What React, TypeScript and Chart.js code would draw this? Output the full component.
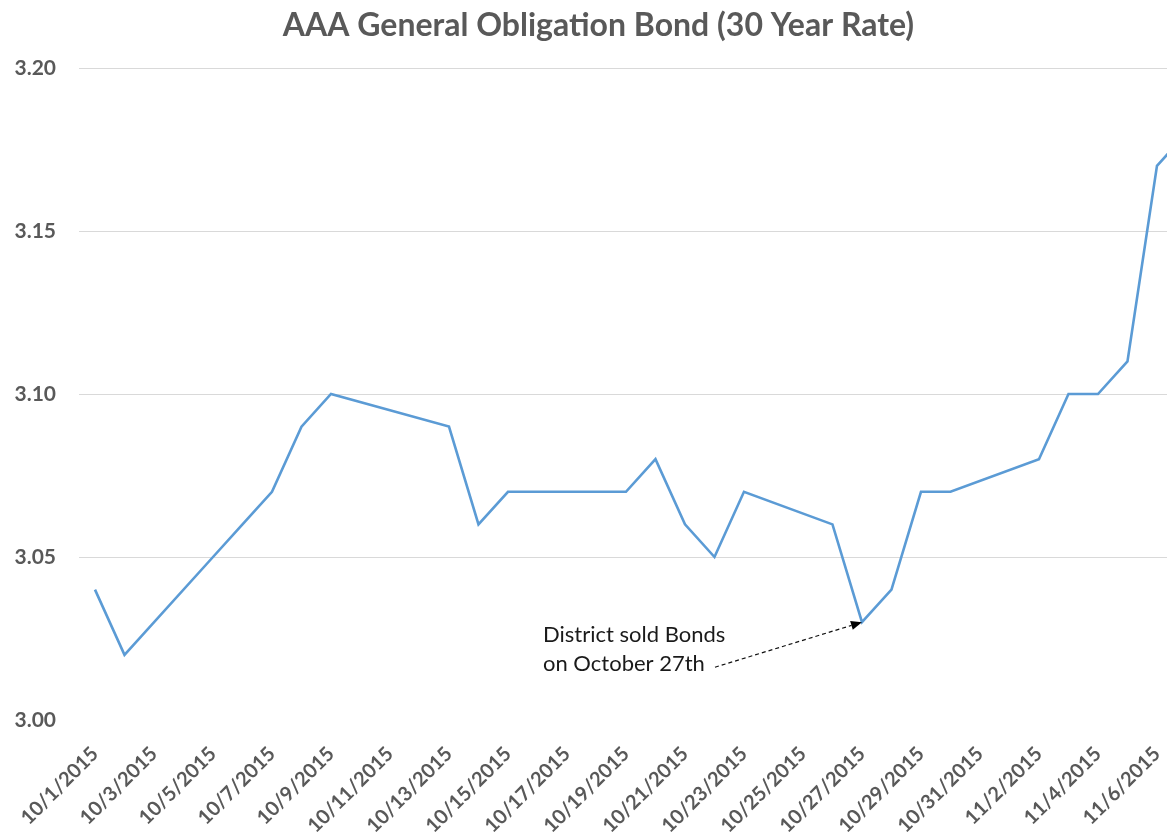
import { useEffect, useRef } from 'react';
import { Chart, registerables } from 'chart.js';

Chart.register(...registerables);

const titleText = 'AAA General Obligation Bond (30 Year Rate)';

const dates = [
  '10/1/2015', '10/2/2015', '10/5/2015', '10/6/2015', '10/7/2015', '10/8/2015', '10/9/2015',
  '10/13/2015', '10/14/2015', '10/15/2015', '10/16/2015', '10/19/2015', '10/20/2015',
  '10/21/2015', '10/22/2015', '10/23/2015', '10/26/2015', '10/27/2015', '10/28/2015',
  '10/29/2015', '10/30/2015', '11/2/2015', '11/3/2015', '11/4/2015', '11/5/2015',
  '11/6/2015', '11/7/2015',
];

const rates = [
  3.04, 3.02, 3.05, 3.06, 3.07, 3.09, 3.10,
  3.09, 3.06, 3.07, 3.07, 3.07, 3.08,
  3.06, 3.05, 3.07, 3.06, 3.03, 3.04,
  3.07, 3.07, 3.08, 3.10, 3.10, 3.11,
  3.17, 3.18,
];

const xTickLabels = [
  '10/1/2015', '10/3/2015', '10/5/2015', '10/7/2015', '10/9/2015', '10/11/2015',
  '10/13/2015', '10/15/2015', '10/17/2015', '10/19/2015', '10/21/2015', '10/23/2015',
  '10/25/2015', '10/27/2015', '10/29/2015', '10/31/2015', '11/2/2015', '11/4/2015',
  '11/6/2015',
];

const yTicks = [3.0, 3.05, 3.1, 3.15, 3.2];

const annotationDate = '10/27/2015';
const annotationLines = ['District sold Bonds', 'on October 27th'];

const origin = Date.UTC(2015, 9, 1);
function dayIndex(s: string): number {
  const [m, d, y] = s.split('/').map(Number);
  return Math.round((Date.UTC(y, m - 1, d) - origin) / 86400000);
}

const GRAY = '#595959';
const FONT = 'Lato';

const titlePlugin = {
  id: 'customTitle',
  afterDraw(chart: any) {
    const ctx = chart.ctx;
    ctx.save();
    ctx.font = `bold 32px ${FONT}`;
    ctx.fillStyle = GRAY;
    ctx.textAlign = 'center';
    ctx.textBaseline = 'alphabetic';
    ctx.fillText(titleText, chart.width / 2 + 15, 36);
    ctx.restore();
  },
};

const annotationPlugin = {
  id: 'annot',
  afterDatasetsDraw(chart: any) {
    const meta = chart.getDatasetMeta(0);
    const idx = dates.indexOf(annotationDate);
    const pt = meta.data[idx];
    if (!pt) return;
    const x = pt.x;
    const y = pt.y;
    const ctx = chart.ctx;
    ctx.save();
    ctx.font = `22px ${FONT}`;
    ctx.fillStyle = '#1a1a1a';
    ctx.textAlign = 'left';
    ctx.textBaseline = 'alphabetic';
    ctx.fillText(annotationLines[0], x - 319, y + 20);
    ctx.fillText(annotationLines[1], x - 319, y + 49);
    const sx = x - 147;
    const sy = y + 45;
    const ang = Math.atan2(y - sy, x - sx);
    const hl = 11;
    const hw = 4.5;
    const c = Math.cos(ang);
    const s = Math.sin(ang);
    ctx.strokeStyle = '#111';
    ctx.fillStyle = '#000';
    ctx.lineWidth = 1.2;
    ctx.setLineDash([4, 3]);
    ctx.beginPath();
    ctx.moveTo(sx, sy);
    ctx.lineTo(x - hl * c, y - hl * s);
    ctx.stroke();
    ctx.setLineDash([]);
    ctx.beginPath();
    ctx.moveTo(x, y);
    ctx.lineTo(x - hl * c + hw * s, y - hl * s - hw * c);
    ctx.lineTo(x - hl * c - hw * s, y - hl * s + hw * c);
    ctx.closePath();
    ctx.fill();
    ctx.restore();
  },
};

export default function App() {
  const ref = useRef<HTMLCanvasElement | null>(null);

  useEffect(() => {
    document.body.style.margin = '0';
    let chart: Chart | null = null;
    let cancelled = false;
    const make = () => {
      if (cancelled || !ref.current) return;
      chart = new Chart(ref.current, {
        type: 'line',
        data: {
          datasets: [
            {
              data: dates.map((d, i) => ({ x: dayIndex(d), y: rates[i] })),
              borderColor: '#5B9BD5',
              borderWidth: 2.6,
              pointRadius: 0,
              tension: 0,
              fill: false,
            },
          ],
        },
        options: {
          animation: false,
          responsive: false,
          maintainAspectRatio: false,
          layout: { padding: { top: 68, left: 0, right: 0, bottom: 0 } },
          plugins: {
            legend: { display: false },
            tooltip: { enabled: false },
            title: { display: false },
          },
          scales: {
            x: {
              type: 'linear',
              min: -0.542,
              max: 36.34,
              afterBuildTicks: (sc: any) => {
                sc.ticks = xTickLabels.map((l) => ({ value: dayIndex(l) }));
              },
              afterFit: (sc: any) => {
                sc.height = 116;
                sc.paddingLeft = 0;
                sc.paddingRight = 0;
              },
              grid: { display: false },
              border: { display: false },
              ticks: {
                autoSkip: false,
                minRotation: 45,
                maxRotation: 45,
                padding: 14,
                color: GRAY,
                font: { family: FONT, weight: 'bold', size: 20 },
                callback: (v: any) => {
                  const l = xTickLabels.find((t) => dayIndex(t) === Number(v));
                  return l ?? '';
                },
              },
            },
            y: {
              min: 3.0,
              max: 3.2,
              afterBuildTicks: (sc: any) => {
                sc.ticks = yTicks.map((v) => ({ value: v }));
              },
              afterFit: (sc: any) => {
                sc.width = 79;
              },
              grid: {
                color: (c: any) => (Math.abs(c.tick.value - 3.0) < 1e-9 ? 'rgba(0,0,0,0)' : '#d9d9d9'),
                drawTicks: false,
                lineWidth: 1,
              },
              border: { display: false },
              ticks: {
                padding: 23,
                color: GRAY,
                font: { family: FONT, weight: 'bold', size: 21 },
                callback: (v: any) => Number(v).toFixed(2),
              },
            },
          },
        },
        plugins: [titlePlugin, annotationPlugin],
      } as any);
    };
    const fontsAny = (document as any).fonts;
    if (fontsAny && fontsAny.load) {
      Promise.all([
        fontsAny.load(`bold 20px ${FONT}`),
        fontsAny.load(`22px ${FONT}`),
        fontsAny.load(`bold 32px ${FONT}`),
      ])
        .catch(() => null)
        .then(make);
    } else {
      make();
    }
    return () => {
      cancelled = true;
      if (chart) chart.destroy();
    };
  }, []);

  return (
    <div style={{ width: 1167, height: 836, position: 'relative' }}>
      <canvas ref={ref} width={1167} height={836} style={{ display: 'block' }} />
    </div>
  );
}
